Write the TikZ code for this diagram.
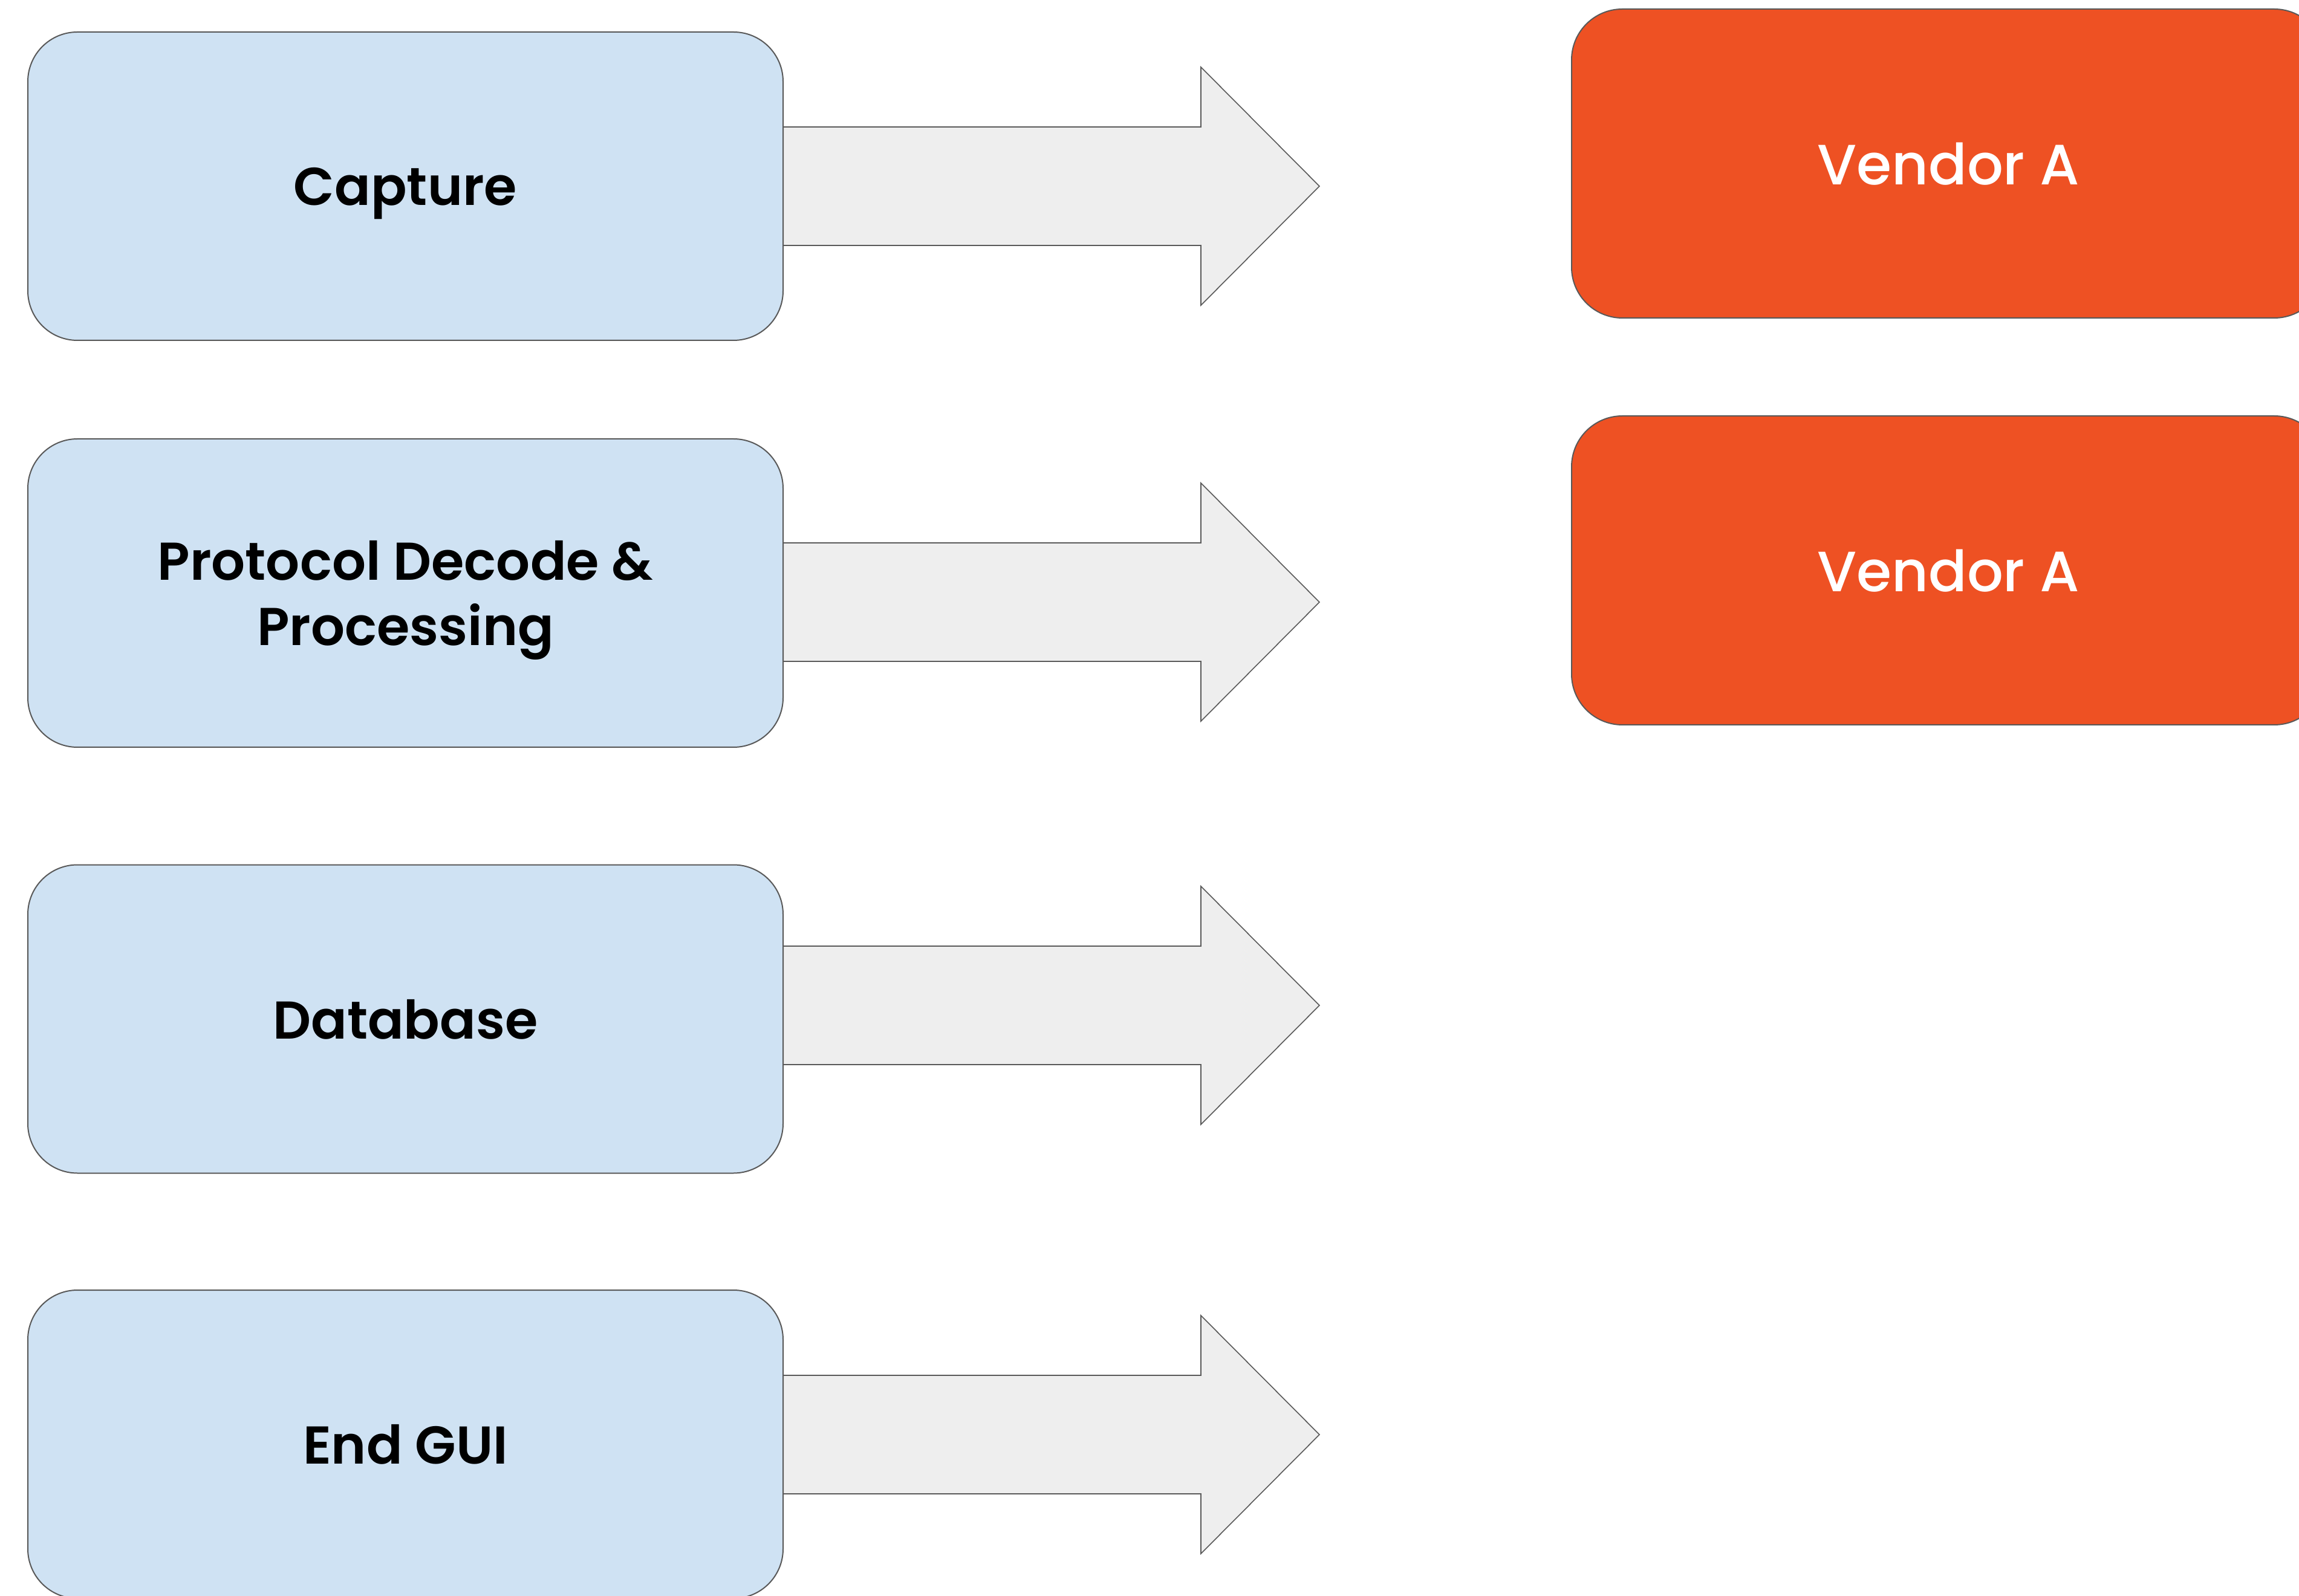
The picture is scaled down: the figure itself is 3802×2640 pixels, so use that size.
\documentclass[tikz,border=0pt]{standalone}
\usepackage{fontspec}
\setmainfont{Poppins}
\newfontfamily\stagefont{Poppins SemiBold}
\newfontfamily\vendorfont{Poppins Medium}
\usepackage{tikz}

\definecolor{stageblue}{RGB}{207,226,243}
\definecolor{vendororange}{RGB}{238,81,35}
\definecolor{arrowgrey}{RGB}{238,238,238}
\definecolor{edgegrey}{RGB}{89,89,89}

\tikzset{
  stagebox/.style={draw=edgegrey, line width=0.5pt, fill=stageblue, rounded corners=20.5pt,
    minimum width=312.25pt, minimum height=127.5pt, inner sep=0pt, align=center, text depth=0pt,
    font=\fontsize{22}{27}\selectfont\stagefont, text=black},
  vendorbox/.style={draw=edgegrey, line width=0.5pt, fill=vendororange, rounded corners=21pt,
    minimum width=311.5pt, minimum height=127.75pt, inner sep=0pt, align=center, text depth=0pt,
    font=\fontsize{23.5}{28}\selectfont\vendorfont, text=white},
  bigarrow/.style={draw=edgegrey, line width=0.4pt, fill=arrowgrey, line join=miter}
}

\begin{document}
\begin{tikzpicture}[x=0.25pt,y=0.25pt,yscale=-1,xscale=1]
\useasboundingbox (0,0) rectangle (3802,2640);
\clip (0,0) rectangle (3802,2640);

%Shape: Right Arrows
\foreach \c in {308,996,1663,2373}{
  \draw[bigarrow] (1295,\c-98) -- (1986,\c-98) -- (1986,\c-197) -- (2182,\c)
    -- (1986,\c+197) -- (1986,\c+98) -- (1295,\c+98);
}

% Stage boxes
\node[stagebox] (capture) at (670.5,308) {Capture};
\node[stagebox] (decode) at (670.5,981) {Protocol Decode \&\\Processing};
\node[stagebox] (database) at (670.5,1685.5) {Database};
\node[stagebox] (gui) at (670.5,2389) {End GUI};

% Vendor boxes
\node[vendorbox] (vendora) at (3222,270.5) {Vendor A};
\node[vendorbox] (vendorb) at (3222,943.5) {Vendor A};

\end{tikzpicture}
\end{document}
